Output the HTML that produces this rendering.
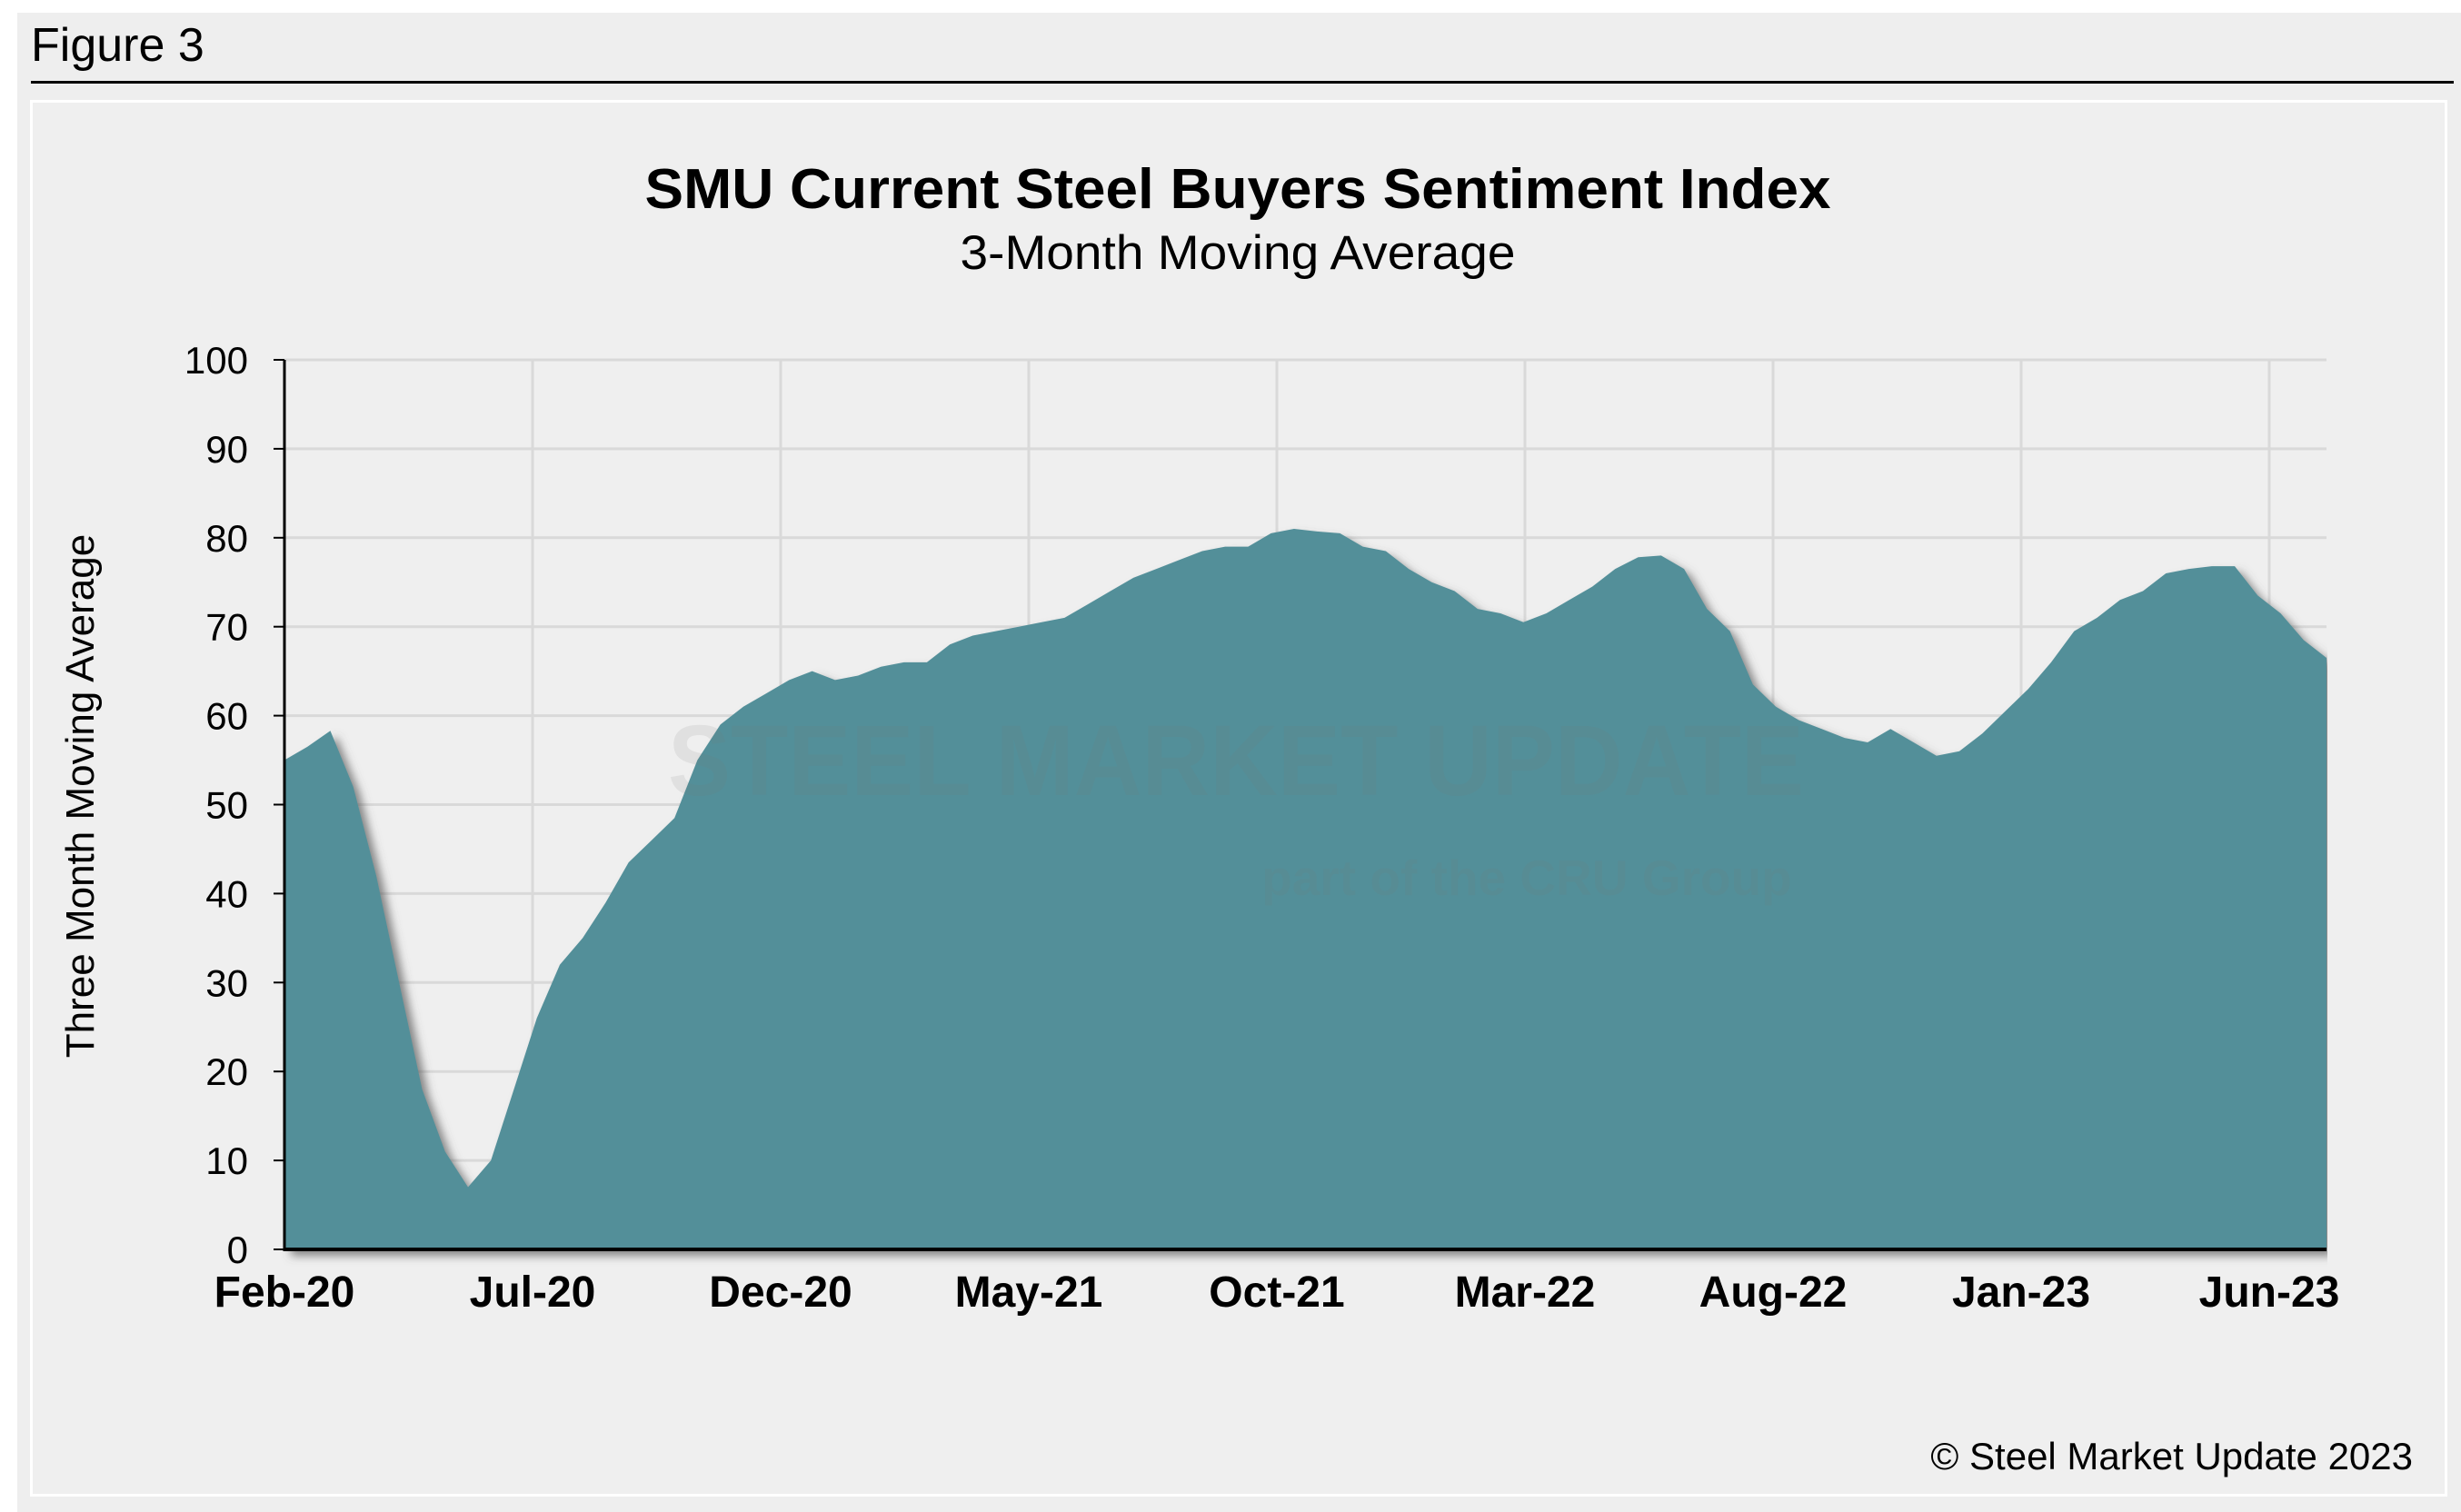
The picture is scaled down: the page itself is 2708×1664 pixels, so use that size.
<!DOCTYPE html>
<html><head><meta charset="utf-8"><style>
html,body{margin:0;padding:0;background:#fff;}
svg{display:block;font-family:"Liberation Sans",Arial,sans-serif;}
</style></head><body>
<svg id="chart" width="2708" height="1664" viewBox="0 0 2708 1664" xmlns="http://www.w3.org/2000/svg">
<defs>
<filter id="shadow" x="-5%" y="-5%" width="110%" height="115%">
<feDropShadow dx="7" dy="7" stdDeviation="5" flood-color="#555" flood-opacity="0.7"/>
</filter>
<clipPath id="plotclip"><rect x="0" y="0" width="2561" height="1664"/></clipPath>
</defs>
<rect x="19" y="14" width="2689" height="1650" fill="#eeeeee"/>
<text x="34" y="67" font-size="52" fill="#000">Figure 3</text>
<rect x="34" y="89" width="2666" height="3" fill="#000"/>
<rect x="34.5" y="111.5" width="2657" height="1534" fill="#efefef" stroke="#fff" stroke-width="3"/>
<text x="1362" y="229" font-size="62" font-weight="bold" text-anchor="middle" textLength="1305" lengthAdjust="spacingAndGlyphs">SMU Current Steel Buyers Sentiment Index</text>
<text x="1362" y="296" font-size="53" text-anchor="middle" textLength="611" lengthAdjust="spacingAndGlyphs">3-Month Moving Average</text>
<g id="grid"></g>
<g id="series" clip-path="url(#plotclip)"></g>
<g opacity="0.12">
<text x="1360" y="875" font-size="110" font-weight="bold" fill="#777" text-anchor="middle" textLength="1250" lengthAdjust="spacingAndGlyphs">STEEL MARKET UPDATE</text>
<text x="1680" y="985" font-size="55" font-weight="bold" fill="#777" text-anchor="middle">part of the CRU Group</text>
</g>
<g id="axes"></g>
<text transform="translate(103,876) rotate(-90)" font-size="44" text-anchor="middle">Three Month Moving Average</text>
<text x="2655" y="1617" font-size="42" text-anchor="end">© Steel Market Update 2023</text>
</svg>
<script>
const values = [55,56.5,58.3,52,42,30,18,11,7,10,18,26,32,35,39,43.5,46,48.5,55,59,61,62.5,64,65,64,64.5,65.5,66,66,68,69,69.5,70,70.5,71,72.5,74,75.5,76.5,77.5,78.5,79,79,80.5,81,80.7,80.5,79,78.5,76.5,75,74,72,71.5,70.5,71.5,73,74.5,76.5,77.8,78,76.5,72,69.5,63.5,61,59.5,58.5,57.5,57,58.5,57,55.5,56,58,60.5,63,66,69.5,71,73,74,76,76.5,76.8,76.8,73.5,71.5,68.5,66.5];
const xLabels = ["Feb-20","Jul-20","Dec-20","May-21","Oct-21","Mar-22","Aug-22","Jan-23","Jun-23"];
const yTicks = [0,10,20,30,40,50,60,70,80,90,100];

const NS = "http://www.w3.org/2000/svg";
const X0 = 313, X1 = 2560, Y0 = 1375, Y100 = 396;
const monthPx = 273/5;
function xIdx(i){ return X0 + i*(X1-X0)/(values.length-1); }
function xLab(k){ return X0 + k*5*monthPx; }
function y(v){ return Y0 - v*(Y0-Y100)/100; }
function mk(tag, attrs){ const e=document.createElementNS(NS,tag); for(const k in attrs) e.setAttribute(k,attrs[k]); return e; }

const grid = document.getElementById('grid');
yTicks.forEach(t=>{
  if(t===0) return;
  const l = mk('line',{x1:X0,x2:X1,y1:y(t),y2:y(t),stroke:'#d9d9d9','stroke-width':3});
  
  
  grid.appendChild(l);
});
xLabels.forEach((s,k)=>{
  if(k===0) return;
  const l = mk('line',{x1:xLab(k),x2:xLab(k),y1:Y100,y2:Y0,stroke:'#d9d9d9','stroke-width':3});
  
  
  grid.appendChild(l);
});

const series = document.getElementById('series');
let d = `M${X0},${Y0}`;
values.forEach((v,i)=>{ d += ` L${xIdx(i).toFixed(1)},${y(v).toFixed(1)}`; });
d += ` L${X1},${Y0} Z`;
const area = mk('path',{d:d,fill:'#528f99',filter:'url(#shadow)'});


series.appendChild(area);

const axes = document.getElementById('axes');
const ya = mk('line',{x1:X0,x2:X0,y1:Y100,y2:Y0+2,stroke:'#000','stroke-width':3});


axes.appendChild(ya);
const xa = mk('line',{x1:X0-1,x2:X1,y1:Y0,y2:Y0,stroke:'#000','stroke-width':4});


axes.appendChild(xa);
yTicks.forEach(t=>{
  const tk = mk('line',{x1:X0-12,x2:X0,y1:y(t),y2:y(t),stroke:'#000','stroke-width':2});
  
  
  axes.appendChild(tk);
  const tx = mk('text',{x:273,y:y(t)+15,'font-size':42,'text-anchor':'end'});
  
  
  tx.textContent = t;
  axes.appendChild(tx);
});
xLabels.forEach((s,k)=>{
  const tx = mk('text',{x:xLab(k),y:1438,'font-size':48,'font-weight':'bold','text-anchor':'middle'});
  
  
  tx.textContent = s;
  axes.appendChild(tx);
});
</script>
</body></html>
